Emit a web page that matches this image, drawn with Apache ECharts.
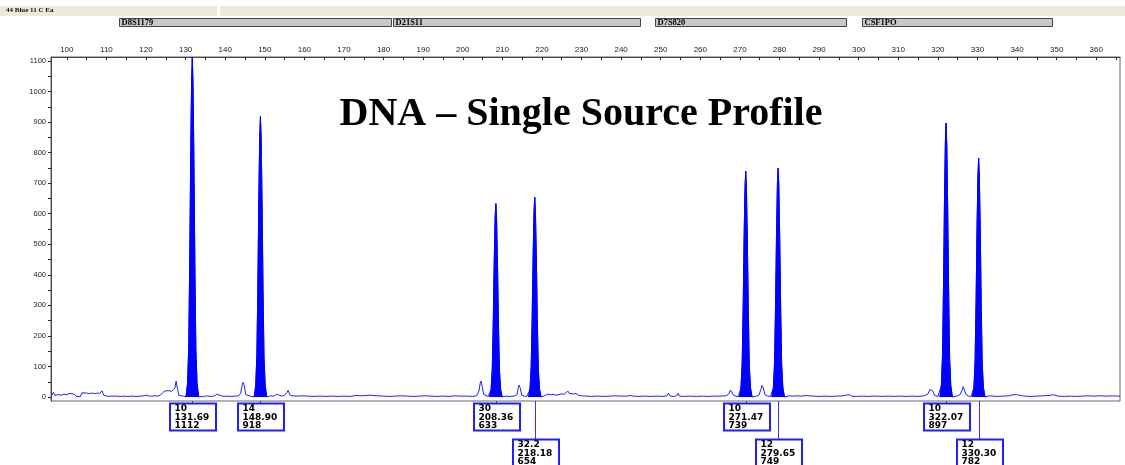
<!DOCTYPE html>
<html>
<head>
<meta charset="utf-8">
<script src="https://cdn.jsdelivr.net/npm/echarts@6/dist/echarts.min.js"></script>
<style>
html,body{margin:0;padding:0;background:#fff;}
#chart{width:1125px;height:465px;}
</style>
</head>
<body>
<div id="chart"></div>
<script>
// ---------- DATA ----------
const titleText = 'DNA – Single Source Profile';
const headerText = '44 Blue 11 C Ea';

const xTickLabels = [100,110,120,130,140,150,160,170,180,190,200,210,220,230,240,250,260,270,280,290,300,310,320,330,340,350,360];
const yTickLabels = [0,100,200,300,400,500,600,700,800,900,1000,1100];

const lociNames = ['D8S1179','D21S11','D7S820','CSF1PO'];
const lociStart = [113.3, 182.5, 248.5, 300.8];
const lociEnd   = [181.8, 244.7, 296.7, 348.8];

const alleles     = ['10','14','30','32.2','10','12','10','12'];
const peakSizes   = [131.69,148.90,208.36,218.18,271.47,279.65,322.07,330.30];
const peakHeights = [1112,918,633,654,739,749,897,782];
const labelRows   = [0,0,0,1,0,1,0,1];

// baseline noise of the trace [size (bp), RFU]
const baselineTrace = [
 [96.1,4],[96.6,16],[97.0,5],[97.8,8],[98.5,6],[99.3,9],[100.0,8],[100.8,12],[101.3,14],[101.9,9],[102.4,2],[103.4,1],
 [103.8,14],[104.3,11],[105.0,13],[105.7,11],[106.3,13],[107.0,11],[107.7,13],[108.3,12],[108.9,20],[109.3,6],[109.8,4],[110.4,2],
 [111.0,3],[111.5,2],[112.5,3],[113.5,2],[114.5,3],[115.5,2],[116.5,3],[117.5,2],[118.5,3],[119.5,4],[120.2,6],[120.8,3],
 [121.5,3],[122.3,4],[123.0,3],[123.7,7],[124.2,14],[124.8,20],[125.3,19],[125.8,21],[126.4,18],[126.9,16],[127.3,30],[127.6,52],
 [127.9,30],[128.3,5],[128.8,2],[129.5,3],
 [133.6,3],[134.5,2],[135.5,4],[136.2,2],[137.2,3],[137.9,9],[138.3,3],[139.5,2],[140.5,3],[141.5,2],[142.5,3],[143.3,4],
 [143.9,12],[144.3,40],[144.5,48],[144.8,38],[145.2,8],[145.7,2],[146.5,2],[147.0,1],
 [150.8,2],[151.5,4],[152.3,3],[153.0,9],[153.5,4],[154.3,3],[155.0,6],[155.6,15],[155.9,22],[156.3,8],[156.9,4],[158.0,3],
 [159.5,4],[161.0,3],[162.5,2],[164.0,3],[165.5,2],[167.0,3],[168.5,2],[170.0,3],[171.5,2],[173.0,5],[173.5,3],[174.5,4],
 [176.5,6],[177.0,3],[178.5,4],[180.0,3],[181.5,2],[183.0,3],[184.5,4],[186.0,3],[187.5,2],[189.0,3],[190.5,4],[192.0,3],
 [193.5,2],[195.0,3],[196.5,2],[198.0,4],[199.5,3],[201.0,3],[202.5,2],[203.5,4],[204.1,20],[204.4,45],[204.6,52],[204.9,35],
 [205.3,8],[205.8,3],[206.4,2],
 [210.3,2],[211.0,3],[212.0,2],[213.0,3],[213.7,8],[214.0,30],[214.2,39],[214.5,30],[214.9,6],[215.5,3],[216.2,2],
 [220.1,3],[220.8,5],[221.5,10],[222.2,7],[222.9,9],[223.6,6],[224.3,8],[225.0,10],[225.7,9],[226.2,15],[226.5,20],[226.9,12],
 [227.4,14],[228.0,10],[228.6,12],[229.2,6],[230.0,4],[231.0,3],[232.5,2],[234.0,3],[235.5,2],[237.0,3],[238.5,4],[240.0,3],
 [241.5,3],[242.2,5],[242.6,8],[243.1,3],[244.5,2],[246.0,3],[247.5,2],[249.0,3],[250.5,2],[251.6,4],[252.0,13],[252.4,3],
 [253.5,2],[254.1,5],[254.4,12],[254.7,3],[256.0,2],[257.5,3],[259.0,2],[260.5,3],[262.0,2],[263.5,3],[265.0,3],[266.5,4],
 [267.2,10],[267.6,23],[268.0,18],[268.4,6],[269.0,3],[269.6,1],
 [273.4,3],[274.0,2],[274.8,6],[275.3,25],[275.6,38],[275.9,30],[276.3,8],[277.0,3],[277.7,2],
 [281.6,3],[282.5,4],[283.5,3],[284.5,4],[285.5,3],[286.5,5],[287.0,8],[287.5,4],[288.5,3],[290.0,2],[291.5,3],[293.0,2],
 [294.5,3],[296.0,4],[297.6,8],[298.2,3],[299.5,2],[301.0,3],[302.5,2],[303.7,3],[304.1,7],[304.6,3],[306.0,2],[307.5,3],
 [309.0,2],[310.5,3],[312.0,2],[313.5,3],[315.0,2],[316.5,4],[317.5,10],[318.0,25],[318.3,31],[318.7,20],[319.2,5],[320.0,2],
 [324.0,3],[324.8,3],[325.6,8],[326.1,22],[326.4,34],[326.7,28],[327.1,8],[327.8,3],[328.4,2],
 [332.2,3],[333.0,4],[334.0,3],[335.0,2],[336.5,3],[338.0,4],[338.7,7],[339.2,5],[339.8,8],[340.5,6],[341.2,4],[342.0,3],
 [343.5,2],[345.0,3],[346.5,4],[348.3,5],[348.9,8],[349.4,4],[350.5,3],[352.0,2],[353.5,3],[355.0,2],[356.5,3],[358.0,4],
 [359.5,3],[361.0,4],[362.5,3],[364.0,4],[365.5,3],[366.0,3]
];

// called (filled) peaks of the trace [size (bp), RFU]
const peak1Trace = [[130.09,0],[130.49,44],[130.79,167],[131.04,445],[131.29,801],[131.51,1034],[131.69,1112],[131.87,1023],[132.09,778],[132.34,423],[132.59,156],[132.89,44],[133.29,0]];
const peak2Trace = [[147.30,0],[147.70,37],[148.00,138],[148.25,367],[148.50,661],[148.72,854],[148.90,918],[149.08,845],[149.30,643],[149.55,349],[149.80,129],[150.10,37],[150.50,0]];
const peak3Trace = [[206.76,0],[207.16,25],[207.46,95],[207.71,253],[207.96,456],[208.18,589],[208.36,633],[208.54,582],[208.76,443],[209.01,241],[209.26,89],[209.56,25],[209.96,0]];
const peak4Trace = [[216.58,0],[216.98,26],[217.28,98],[217.53,262],[217.78,471],[218.00,608],[218.18,654],[218.36,602],[218.58,458],[218.83,249],[219.08,92],[219.38,26],[219.78,0]];
const peak5Trace = [[269.87,0],[270.27,30],[270.57,111],[270.82,296],[271.07,532],[271.29,687],[271.47,739],[271.65,680],[271.87,517],[272.12,281],[272.37,103],[272.67,30],[273.07,0]];
const peak6Trace = [[278.05,0],[278.45,30],[278.75,112],[279.00,300],[279.25,539],[279.47,697],[279.65,749],[279.83,689],[280.05,524],[280.30,285],[280.55,105],[280.85,30],[281.25,0]];
const peak7Trace = [[320.47,0],[320.87,36],[321.17,135],[321.42,359],[321.67,646],[321.89,834],[322.07,897],[322.25,825],[322.47,628],[322.72,341],[322.97,126],[323.27,36],[323.67,0]];
const peak8Trace = [[328.70,0],[329.10,31],[329.40,117],[329.65,313],[329.90,563],[330.12,727],[330.30,782],[330.48,719],[330.70,547],[330.95,297],[331.20,109],[331.50,31],[331.90,0]];

// ---------- BUILD ----------
const peakTraces = [peak1Trace,peak2Trace,peak3Trace,peak4Trace,peak5Trace,peak6Trace,peak7Trace,peak8Trace];
const trace = baselineTrace.concat(...peakTraces).sort((a,b)=>a[0]-b[0]);

const xTicks = [];
xTickLabels.forEach(v => { xTicks.push(v); if (v + 5 <= 366) xTicks.push(v + 5); });
const yTicks = [];
yTickLabels.forEach(v => { yTicks.push(v); if (v + 50 <= 1100) yTicks.push(v + 50); });

const BLUE = '#0000ff';

const chart = echarts.init(document.getElementById('chart'), null, {renderer:'canvas'});

const fillSeries = peakTraces.map(pt => ({
  type:'line', data: pt, showSymbol:false, symbol:'none', silent:true, z:3,
  lineStyle:{color:BLUE, width:1},
  areaStyle:{color:BLUE, opacity:1, origin:0}
}));

const option = {
  animation:false,
  backgroundColor:'#ffffff',
  grid:{left:51, right:5, top:57, bottom:64, show:true, borderColor:'#666', borderWidth:1, backgroundColor:'transparent'},
  xAxis:{
    type:'value', position:'top', min:96, max:366,
    axisLine:{show:true, onZero:false, lineStyle:{color:'#444', width:1}},
    axisTick:{show:true, inside:true, length:3, customValues:xTicks, lineStyle:{color:'#222'}},
    axisLabel:{customValues:xTickLabels, fontSize:8, color:'#222', margin:3, fontFamily:'Liberation Sans',
      formatter:v => String(v)},
    splitLine:{show:false}
  },
  yAxis:{
    type:'value', min:-13, max:1113,
    axisLine:{show:true, lineStyle:{color:'#444', width:1}},
    axisTick:{show:true, length:3, customValues:yTicks, lineStyle:{color:'#222'}},
    axisLabel:{customValues:yTickLabels, fontSize:7.5, color:'#222', margin:5, fontFamily:'Liberation Sans',
      formatter:v => String(v)},
    splitLine:{show:false}
  },
  graphic:[
    {type:'rect', shape:{x:0, y:6, width:217, height:10}, style:{fill:'#ece9d8'}, silent:true},
    {type:'rect', shape:{x:220, y:6, width:905, height:10}, style:{fill:'#ece9d8'}, silent:true},
    {type:'text', x:6, y:10, style:{text:headerText, font:'bold 7px "Liberation Serif"', fill:'#111', textVerticalAlign:'middle'}, silent:true},
    {type:'text', x:581, y:115, z:10, style:{text:titleText, font:'bold 40px "Liberation Serif"', fill:'#000', textAlign:'center', textVerticalAlign:'middle'}, silent:true}
  ],
  series:[
    {
      type:'line', data:trace, showSymbol:false, symbol:'none', silent:true, z:2,
      lineStyle:{color:'#2020ff', width:1}
    },
    ...fillSeries,
    {
      type:'custom', clip:false, silent:true, z:5,
      data: peakSizes.map((s,i)=>[s, peakHeights[i], labelRows[i], i]),
      renderItem:function(params, api){
        const i = api.value(3);
        const px = Math.round(api.coord([api.value(0), 0])[0]) + 0.5;
        const cs = params.coordSys;
        const bottom = cs.y + cs.height;
        const top = api.value(2) === 0 ? bottom + 2 : bottom + 38;
        return {type:'group', children:[
          {type:'line', shape:{x1:px, y1:bottom, x2:px, y2:top}, style:{stroke:'#3030ff', lineWidth:1}},
          {type:'rect', shape:{x:px-22.5, y:top+0.5, width:46, height:27}, style:{fill:'#fff', stroke:'#1f1fff', lineWidth:2}},
          {type:'text', x:px-18, y:top+1.8, style:{
            text:[alleles[i], peakSizes[i].toFixed(2), String(peakHeights[i])].join('\n'),
            font:'bold 9px "DejaVu Sans"', lineHeight:8.4, fill:'#000', textVerticalAlign:'top'}}
        ]};
      }
    },
    {
      type:'custom', clip:false, silent:true, z:5,
      data: lociNames.map((n,i)=>[lociStart[i], lociEnd[i], i]),
      encode:{x:[0,1]},
      renderItem:function(params, api){
        const i = api.value(2);
        const x1 = Math.round(api.coord([api.value(0), 0])[0]) + 0.5;
        const x2 = Math.round(api.coord([api.value(1), 0])[0]) + 0.5;
        const top = params.coordSys.y - 39 + 0.5;
        return {type:'group', children:[
          {type:'rect', shape:{x:x1, y:top, width:x2-x1, height:8}, style:{fill:'#c8c8c8', stroke:'#444', lineWidth:1}},
          {type:'text', x:x1+2, y:top+4.5, style:{text:lociNames[i], font:'bold 8.5px "Liberation Serif"', fill:'#000', textVerticalAlign:'middle'}}
        ]};
      }
    }
  ]
};
chart.setOption(option);
</script>
</body>
</html>
